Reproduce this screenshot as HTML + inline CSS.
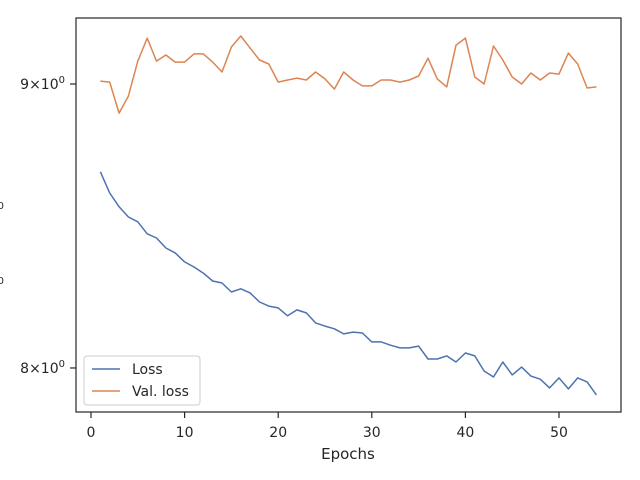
<!DOCTYPE html>
<html><head><meta charset="utf-8"><style>
body{margin:0;background:#fff}
svg{display:block;font-family:"DejaVu Sans","Liberation Sans",sans-serif}
</style></head><body>
<svg width="640" height="480" viewBox="0 0 640 480">
<rect x="0" y="0" width="640" height="480" fill="#fff"/>
<g id="plot"></g>
<rect x="76" y="18" width="545" height="394" fill="none" stroke="#262626" stroke-width="1.2"/>
<text x="348" y="459" text-anchor="middle" font-size="15" fill="#262626">Epochs</text>
<g>
<rect x="84" y="356" width="116" height="49" rx="3" fill="#fff" fill-opacity="0.8" stroke="#ccc"/>
<line x1="92" y1="369" x2="120" y2="369" stroke="#4c72b0" stroke-width="1.5"/>
<text x="132" y="374" font-size="14" fill="#262626">Loss</text>
<line x1="92" y1="391" x2="120" y2="391" stroke="#dd8452" stroke-width="1.5"/>
<text x="132" y="396" font-size="14" fill="#262626">Val. loss</text>
</g>
</svg>
<script>
const epochs = [];
for (let i = 1; i <= 54; i++) epochs.push(i);
const lossValues = [8.678,8.602,8.553,8.517,8.500,8.458,8.443,8.408,8.391,8.360,8.342,8.321,8.294,8.287,8.256,8.267,8.253,8.222,8.208,8.202,8.175,8.195,8.185,8.151,8.140,8.131,8.114,8.120,8.117,8.087,8.087,8.076,8.067,8.067,8.073,8.030,8.030,8.040,8.020,8.050,8.040,7.990,7.970,8.020,7.977,8.003,7.973,7.963,7.934,7.967,7.931,7.967,7.954,7.911];
const valLossValues = [9.011,9.007,8.892,8.955,9.086,9.173,9.086,9.109,9.082,9.082,9.113,9.113,9.082,9.045,9.139,9.181,9.135,9.090,9.075,9.007,9.015,9.022,9.015,9.045,9.019,8.981,9.045,9.015,8.993,8.993,9.015,9.015,9.007,9.015,9.030,9.097,9.019,8.989,9.146,9.173,9.026,9.000,9.143,9.090,9.026,9.000,9.041,9.015,9.041,9.037,9.116,9.075,8.985,8.989];
const xTicks = [0,10,20,30,40,50];
const yTicks = [8,9];
const yTickLabels = ["8", "9"];

const NS = "http://www.w3.org/2000/svg";
const plot = document.getElementById("plot");
function xScale(v){ return 91 + v * 9.36; }
function yScale(v){ return 84 - (Math.log(v) - Math.log(9)) * 2411; }
function mk(tag, attrs){ const e = document.createElementNS(NS, tag); for (const k in attrs) e.setAttribute(k, attrs[k]); plot.appendChild(e); return e; }

xTicks.forEach(t => {
  const x = xScale(t);
  const l = mk("line", {x1:x, y1:412, x2:x, y2:418, stroke:"#262626", "stroke-width":1.2});
  
  
  const tx = mk("text", {x:x, y:437, "text-anchor":"middle", "font-size":14, fill:"#262626"});
  tx.textContent = String(t);
  
  
});
yTicks.forEach((t, i) => {
  const y = yScale(t);
  const l = mk("line", {x1:70, y1:y, x2:76, y2:y, stroke:"#262626", "stroke-width":1.2});
  
  
  const tx = mk("text", {x:65, y:y + 5, "text-anchor":"end", "font-size":14, fill:"#262626"});
  tx.innerHTML = yTickLabels[i] + "×10<tspan font-size='10' dy='-6'>0</tspan>";
  
  
});
[210, 285].forEach(y => {
  const tx = mk("text", {x:4, y:y + 5, "text-anchor":"end", "font-size":14, fill:"#262626"});
  tx.innerHTML = "0<tspan font-size='10' dy='-6'>0</tspan>";
  
  
});

function drawLine(vals, color, name){
  const pts = vals.map((v, i) => xScale(epochs[i]).toFixed(1) + "," + yScale(v).toFixed(1)).join(" ");
  const p = mk("polyline", {points:pts, fill:"none", stroke:color, "stroke-width":1.5, "stroke-linejoin":"round"});
  
  
}
drawLine(lossValues, "#4c72b0", "loss-line");
drawLine(valLossValues, "#dd8452", "val-loss-line");
</script>
</body></html>
